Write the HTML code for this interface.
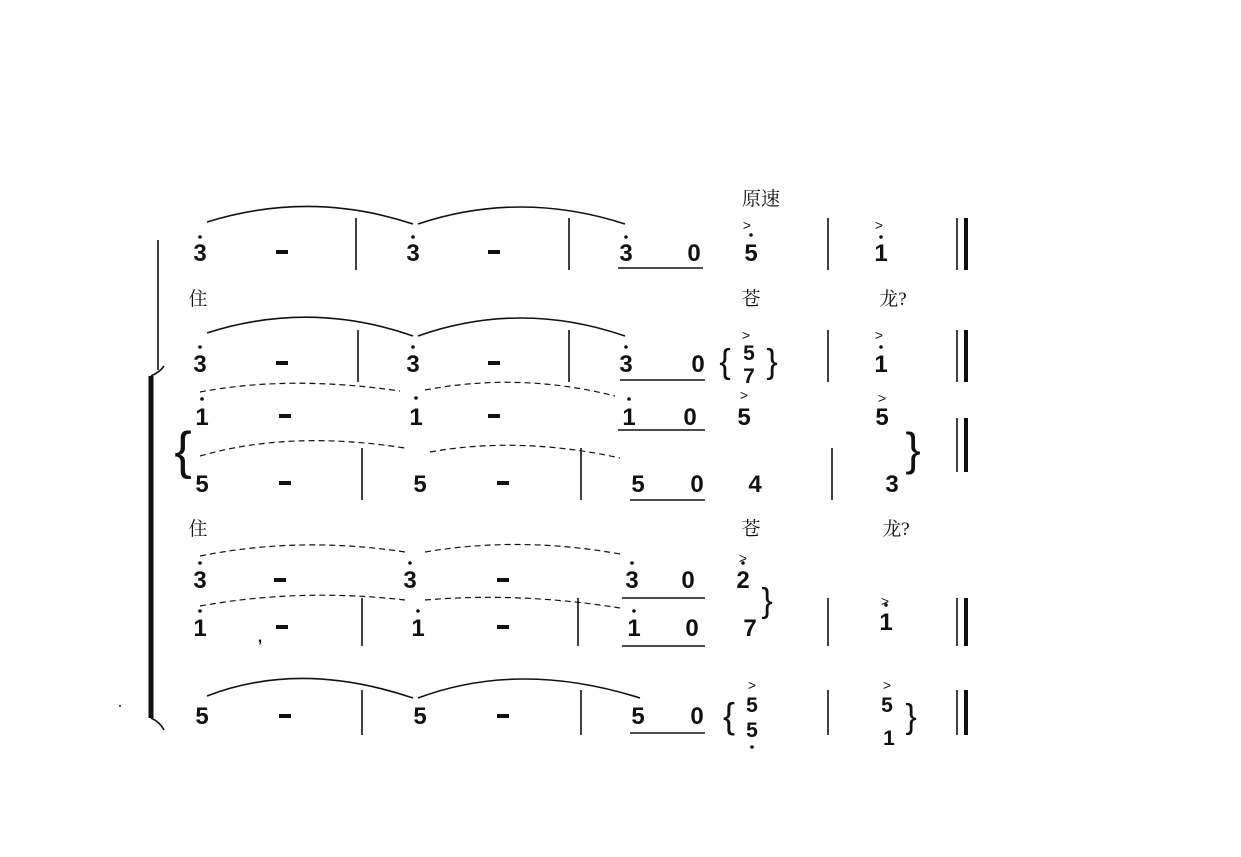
<!DOCTYPE html>
<html><head><meta charset="utf-8"><style>
html,body{margin:0;padding:0;background:#fff;}
svg text{font-family:"Liberation Sans","Noto Sans CJK SC",sans-serif;font-weight:bold;font-size:24px;fill:#111;text-anchor:middle;}
svg text.c{font-family:"Liberation Serif","Noto Serif CJK SC",serif;font-weight:normal;font-size:19px;}
</style></head><body>
<svg width="1241" height="852" viewBox="0 0 1241 852" xmlns="http://www.w3.org/2000/svg">
<g stroke="#111" fill="none" stroke-width="1.6">
<line x1="158" y1="240" x2="158" y2="370"/>
<line x1="151" y1="376" x2="151" y2="718" stroke-width="5"/>
<path d="M151 376 Q160 372 164 366"/>
<path d="M151 718 Q160 722 164 730"/>
<path d="M207 222 Q310 190 413 224"/><path d="M418 224 Q520 190 625 224"/>
<path d="M207 333 Q310 300 413 336"/><path d="M418 336 Q520 300 625 336"/>
<path d="M200 392 Q290 375 400 391" stroke-dasharray="6,4" stroke-width="1.2"/><path d="M425 390 Q520 372 615 396" stroke-dasharray="6,4" stroke-width="1.2"/>
<path d="M200 456 Q290 430 405 448" stroke-dasharray="6,4" stroke-width="1.2"/><path d="M430 452 Q520 436 620 458" stroke-dasharray="6,4" stroke-width="1.2"/>
<path d="M200 556 Q300 536 405 552" stroke-dasharray="6,4" stroke-width="1.2"/><path d="M425 552 Q520 536 620 554" stroke-dasharray="6,4" stroke-width="1.2"/>
<path d="M200 606 Q300 588 405 600" stroke-dasharray="6,4" stroke-width="1.2"/><path d="M425 600 Q520 592 620 608" stroke-dasharray="6,4" stroke-width="1.2"/>
<path d="M207 696 Q300 660 413 698"/><path d="M418 698 Q520 660 640 698"/>
<line x1="356" y1="218" x2="356" y2="270"/><line x1="569" y1="218" x2="569" y2="270"/><line x1="828" y1="218" x2="828" y2="270"/>
<line x1="358" y1="330" x2="358" y2="382"/><line x1="569" y1="330" x2="569" y2="382"/><line x1="828" y1="330" x2="828" y2="382"/>
<line x1="362" y1="448" x2="362" y2="500"/><line x1="581" y1="448" x2="581" y2="500"/><line x1="832" y1="448" x2="832" y2="500"/>
<line x1="362" y1="598" x2="362" y2="646"/><line x1="578" y1="598" x2="578" y2="646"/><line x1="828" y1="598" x2="828" y2="646"/>
<line x1="362" y1="690" x2="362" y2="735"/><line x1="581" y1="690" x2="581" y2="735"/><line x1="828" y1="690" x2="828" y2="735"/>
<line x1="957" y1="218" x2="957" y2="270"/><line x1="966" y1="218" x2="966" y2="270" stroke-width="4"/>
<line x1="957" y1="330" x2="957" y2="382"/><line x1="966" y1="330" x2="966" y2="382" stroke-width="4"/>
<line x1="957" y1="418" x2="957" y2="472"/><line x1="966" y1="418" x2="966" y2="472" stroke-width="4"/>
<line x1="957" y1="598" x2="957" y2="646"/><line x1="966" y1="598" x2="966" y2="646" stroke-width="4"/>
<line x1="957" y1="690" x2="957" y2="735"/><line x1="966" y1="690" x2="966" y2="735" stroke-width="4"/>
<line x1="618" y1="268" x2="703" y2="268"/><line x1="620" y1="380" x2="705" y2="380"/>
<line x1="618" y1="430" x2="705" y2="430"/><line x1="630" y1="500" x2="705" y2="500"/>
<line x1="622" y1="598" x2="705" y2="598"/><line x1="622" y1="646" x2="705" y2="646"/>
<line x1="630" y1="733" x2="705" y2="733"/>
</g>
<!-- dashes -->
<g fill="#111">
<rect x="276" y="250" width="12" height="4"/><rect x="488" y="250" width="12" height="4"/>
<rect x="276" y="361" width="12" height="4"/><rect x="488" y="361" width="12" height="4"/>
<rect x="279" y="414" width="12" height="4"/><rect x="488" y="414" width="12" height="4"/>
<rect x="279" y="481" width="12" height="4"/><rect x="497" y="481" width="12" height="4"/>
<rect x="274" y="578" width="12" height="4"/><rect x="497" y="578" width="12" height="4"/>
<rect x="276" y="625" width="12" height="4"/><rect x="497" y="625" width="12" height="4"/>
<rect x="279" y="714" width="12" height="4"/><rect x="497" y="714" width="12" height="4"/>
</g>
<text x="183" y="468" style="font-size:52px;font-weight:normal">{</text>
<text x="725" y="373" style="font-size:34px;font-weight:normal">{</text>
<text x="772" y="373" style="font-size:34px;font-weight:normal">}</text>
<text x="913" y="465" style="font-size:46px;font-weight:normal">}</text>
<text x="767" y="612" style="font-size:34px;font-weight:normal">}</text>
<text x="729" y="728" style="font-size:36px;font-weight:normal">{</text>
<text x="911" y="728" style="font-size:34px;font-weight:normal">}</text>
<text x="200" y="261">3</text><text x="413" y="261">3</text><text x="626" y="261">3</text><text x="694" y="261">0</text><text x="751" y="261">5</text><text x="881" y="261">1</text>
<text class="c" x="761" y="205">原速</text>
<text x="747" y="230" style="font-size:14px;font-weight:normal">&gt;</text><text x="879" y="230" style="font-size:14px;font-weight:normal">&gt;</text>
<text class="c" x="198" y="305">住</text><text class="c" x="751" y="305">苍</text><text class="c" x="893" y="305">龙?</text>
<text x="200" y="372">3</text><text x="413" y="372">3</text><text x="626" y="372">3</text><text x="698" y="372">0</text><text x="881" y="372">1</text>
<text x="749" y="360" style="font-size:21px">5</text><text x="749" y="383" style="font-size:21px">7</text>
<text x="746" y="340" style="font-size:14px;font-weight:normal">&gt;</text><text x="879" y="340" style="font-size:14px;font-weight:normal">&gt;</text>
<text x="202" y="425">1</text><text x="416" y="425">1</text><text x="629" y="425">1</text><text x="690" y="425">0</text><text x="744" y="425">5</text><text x="882" y="425">5</text>
<text x="744" y="400" style="font-size:14px;font-weight:normal">&gt;</text><text x="882" y="403" style="font-size:14px;font-weight:normal">&gt;</text>
<text x="202" y="492">5</text><text x="420" y="492">5</text><text x="638" y="492">5</text><text x="697" y="492">0</text><text x="755" y="492">4</text><text x="892" y="492">3</text>
<text class="c" x="198" y="535">住</text><text class="c" x="751" y="535">苍</text><text class="c" x="896" y="535">龙?</text>
<text x="200" y="588">3</text><text x="410" y="588">3</text><text x="632" y="588">3</text><text x="688" y="588">0</text><text x="743" y="588">2</text>
<text x="743" y="563" style="font-size:14px;font-weight:normal">&gt;</text><text x="885" y="606" style="font-size:14px;font-weight:normal">&gt;</text>
<text x="200" y="636">1</text><text x="260" y="642" style="font-size:16px">,</text><text x="418" y="636">1</text><text x="634" y="636">1</text><text x="692" y="636">0</text><text x="750" y="636">7</text><text x="886" y="630">1</text>
<text x="202" y="724">5</text><text x="420" y="724">5</text><text x="638" y="724">5</text><text x="697" y="724">0</text>
<text x="752" y="712" style="font-size:21px">5</text><text x="752" y="737" style="font-size:21px">5</text><text x="887" y="712" style="font-size:21px">5</text><text x="889" y="745" style="font-size:21px">1</text>
<text x="752" y="690" style="font-size:14px;font-weight:normal">&gt;</text><text x="887" y="690" style="font-size:14px;font-weight:normal">&gt;</text>
<g fill="#111">
<circle cx="200" cy="237" r="1.8"/><circle cx="413" cy="237" r="1.8"/><circle cx="626" cy="237" r="1.8"/><circle cx="751" cy="235" r="1.8"/><circle cx="881" cy="237" r="1.8"/>
<circle cx="200" cy="347" r="1.8"/><circle cx="413" cy="347" r="1.8"/><circle cx="626" cy="347" r="1.8"/><circle cx="881" cy="347" r="1.8"/>
<circle cx="202" cy="399" r="1.8"/><circle cx="416" cy="398" r="1.8"/><circle cx="629" cy="399" r="1.8"/>
<circle cx="200" cy="563" r="1.8"/><circle cx="410" cy="563" r="1.8"/><circle cx="632" cy="563" r="1.8"/><circle cx="743" cy="563" r="1.8"/>
<circle cx="200" cy="611" r="1.8"/><circle cx="418" cy="611" r="1.8"/><circle cx="634" cy="611" r="1.8"/><circle cx="886" cy="605" r="1.8"/>
<circle cx="752" cy="747" r="1.8"/><circle cx="120" cy="706" r="1"/>
</g>
</svg>
</body></html>
